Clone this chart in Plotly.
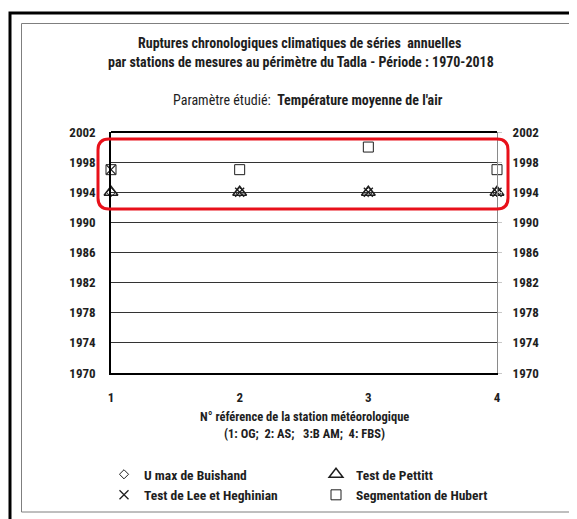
import plotly.graph_objects as go

stations = [1, 2, 3, 4]
buishand = [1994, 1994, 1994, 1994]
pettitt = [1994, 1994, 1994, 1994]
lee = [1997, 1994, 1994, 1994]
hubert = [1997, 1997, 2000, 1997]
year_ticks = [1970, 1974, 1978, 1982, 1986, 1990, 1994, 1998, 2002]

W, H = 577, 519
OFF = 8  # page body margin
PL, PR, PT, PB = 111, 497, 132, 373  # plot area in screen pixels
PW, PH = PR - PL, PB - PT
L, T = PL - OFF, PT - OFF
R, B = W - L - PW, H - T - PH
FONT = "Liberation Sans Narrow, Roboto Condensed, Lato, Liberation Sans"

def px(x):
    return (x - PL) / PW

def py(y):
    return (PB - y) / PH

fig = go.Figure()
col = "#1e1e1e"
fig.add_trace(go.Scatter(x=stations, y=buishand, mode="markers", name="U max de Buishand",
                         marker=dict(symbol="diamond-open", size=7, color=col, line=dict(color=col, width=1)),
                         cliponaxis=False, legend="legend"))
fig.add_trace(go.Scatter(x=stations, y=pettitt, mode="markers", name="Test de Pettitt",
                         marker=dict(symbol="triangle-up-open", size=12, color=col, line=dict(color=col, width=1.5)),
                         cliponaxis=False, legend="legend2"))
fig.add_trace(go.Scatter(x=stations, y=lee, mode="markers", name="Test de Lee et Heghinian",
                         marker=dict(symbol="x-thin-open", size=9, color=col, line=dict(color=col, width=1.3)),
                         cliponaxis=False, legend="legend"))
fig.add_trace(go.Scatter(x=stations, y=hubert, mode="markers", name="Segmentation de Hubert",
                         marker=dict(symbol="square-open", size=10, color=col, line=dict(color=col, width=1)),
                         cliponaxis=False, legend="legend2"))
fig.add_trace(go.Scatter(x=stations, y=hubert, mode="markers", yaxis="y2", showlegend=False,
                         marker=dict(opacity=0), hoverinfo="skip"))

tickfont = dict(family=FONT, size=13, color=col, weight="bold")
legfont = dict(family=FONT, size=13.5, color=col, weight="bold")

fig.update_layout(
    width=W, height=H, margin=dict(l=L, r=R, t=T, b=B, autoexpand=False),
    paper_bgcolor="white", plot_bgcolor="white",
    font=dict(family=FONT, color=col),
    xaxis=dict(range=[1, 4], tickvals=stations, showgrid=False, zeroline=False,
               showline=True, linecolor="black", linewidth=1.5, mirror=False,
               ticks="", ticklabelstandoff=12, tickfont=tickfont),
    yaxis=dict(range=[1970, 2002], tickvals=year_ticks, showgrid=True, gridcolor="#333333",
               gridwidth=1, zeroline=False, showline=True, linecolor="black", linewidth=1.5,
               ticks="", ticklabelstandoff=11, tickfont=tickfont),
    yaxis2=dict(range=[1970, 2002], tickvals=year_ticks, overlaying="y", side="right",
                showgrid=False, zeroline=False, showline=True, linecolor="#8a8a8a", linewidth=1,
                ticks="outside", ticklen=4, tickcolor="#c8c8c8", ticklabelstandoff=8,
                tickfont=tickfont),
    legend=dict(x=px(104), y=py(459), xanchor="left", yanchor="top", bgcolor="rgba(0,0,0,0)",
                font=legfont, itemwidth=30, tracegroupgap=0),
    legend2=dict(x=px(316), y=py(459), xanchor="left", yanchor="top", bgcolor="rgba(0,0,0,0)",
                 font=legfont, itemwidth=30, tracegroupgap=0),
)

# top border line at 2002
fig.add_shape(type="line", xref="paper", yref="paper", x0=0, x1=1, y0=1, y1=1,
              line=dict(color="black", width=2))
# outer frames
fig.add_shape(type="rect", xref="paper", yref="paper", x0=px(10), x1=px(600), y0=py(13), y1=py(540),
              line=dict(color="black", width=3), layer="below")
fig.add_shape(type="rect", xref="paper", yref="paper", x0=px(21.5), x1=px(572), y0=py(23.5), y1=py(512),
              line=dict(color="#7f7f7f", width=1), layer="below")

# red rounded highlight
x0, x1, y0, y1, r = 98, 508, 139, 209, 11
def P(x, y):
    return f"{px(x):.5f},{py(y):.5f}"
path = (f"M {P(x0 + r, y0)} L {P(x1 - r, y0)} Q {P(x1, y0)} {P(x1, y0 + r)} "
        f"L {P(x1, y1 - r)} Q {P(x1, y1)} {P(x1 - r, y1)} L {P(x0 + r, y1)} "
        f"Q {P(x0, y1)} {P(x0, y1 - r)} L {P(x0, y0 + r)} Q {P(x0, y0)} {P(x0 + r, y0)} Z")
fig.add_shape(type="path", xref="paper", yref="paper", path=path,
              line=dict(color="#e8101a", width=3))

def ann(text, x, y, size=14, bold=True):
    fig.add_annotation(text=text, xref="paper", yref="paper", x=px(x), y=py(y),
                       xanchor="center", yanchor="middle", showarrow=False,
                       font=dict(family=FONT, size=size, color=col,
                                 weight="bold" if bold else "normal"))

ann("Ruptures chronologiques climatiques de séries  annuelles", 299, 43)
ann("par stations de mesures au périmètre du Tadla - Période : 1970-2018", 301, 62)
ann("Paramètre étudié:  <b>Température moyenne de l'air</b>", 308, 100, bold=False)
ann("N° référence de la station météorologique", 304, 416, size=12.5)
ann("(1: OG;  2: AS;   3:B AM;  4: FBS)", 304, 433, size=12.5)

fig.write_html("out.html")
